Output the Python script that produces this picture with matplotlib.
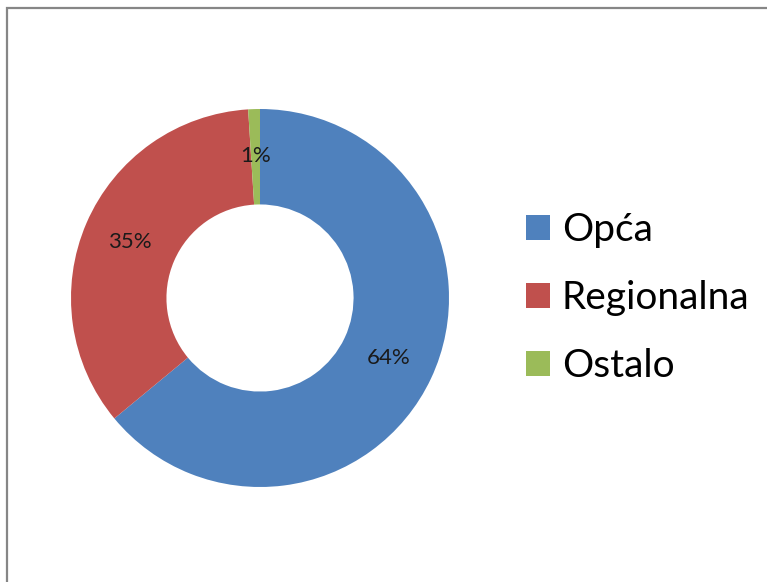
import matplotlib.pyplot as plt
from matplotlib.patches import Patch, Rectangle

# data
labels = ['Opća', 'Regionalna', 'Ostalo']
shares = [64, 35, 1]
colors = ['#4F81BD', '#C0504D', '#9BBB59']

plt.rcParams['font.family'] = ['Lato', 'DejaVu Sans']

W, H = 767, 582
fig = plt.figure(figsize=(W / 100, H / 100), dpi=100)

# donut centre (260, 298) px, outer radius 189 px
cx, cy, r = 260, 298, 189
ax = fig.add_axes([(cx - r) / W, (H - cy - r) / H, 2 * r / W, 2 * r / H])

wedges, texts, autotexts = ax.pie(
    shares, colors=colors, startangle=90, counterclock=False,
    radius=1, wedgeprops=dict(width=0.505, linewidth=0),
    autopct='%1.0f%%', pctdistance=0.75,
    textprops=dict(fontsize=16, color='#1a1a1a'))
ax.set_xlim(-1, 1)
ax.set_ylim(-1, 1)
ax.set_aspect('equal')

handles = [Patch(facecolor=c, edgecolor='none') for c in colors]
fig.legend(handles, labels, loc='center left',
           bbox_to_anchor=(526 / W, 1 - 298 / H), frameon=False,
           fontsize=28, handlelength=0.62, handleheight=0.62,
           handletextpad=0.3, labelspacing=0.82, borderaxespad=0,
           borderpad=0)

# grey frame round the chart area
fig.add_artist(Rectangle((7 / W, -0.1), 2, (H - 8) / H + 0.1,
                         transform=fig.transFigure, fill=False,
                         edgecolor='#868686', linewidth=1.6))

fig.savefig('out.png', dpi=100)
